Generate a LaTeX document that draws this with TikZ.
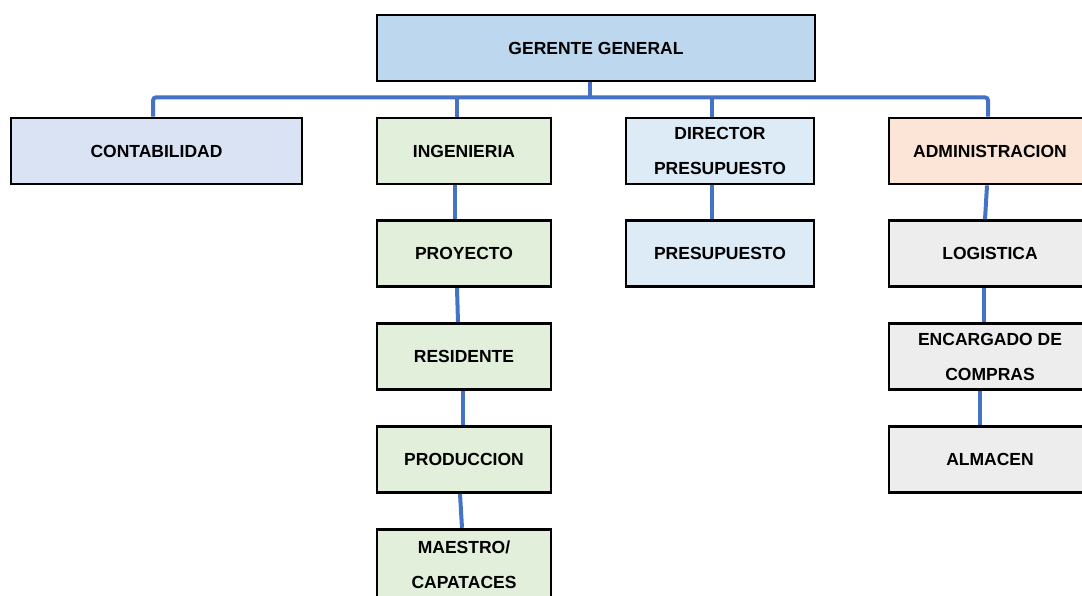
\documentclass[tikz,border=0pt]{standalone}
\usepackage{fontspec}
\setmainfont{Liberation Sans}
\usepackage{tikz}
\usepackage{xcolor}
\usetikzlibrary{positioning}

\definecolor{link-blue}{HTML}{4472C4}
\definecolor{fill-top}{HTML}{BDD7EE}
\definecolor{fill-conta}{HTML}{DAE3F3}
\definecolor{fill-ing}{HTML}{E2EFDA}
\definecolor{fill-pres}{HTML}{DDEBF7}
\definecolor{fill-adm}{HTML}{FCE4D6}
\definecolor{fill-log}{HTML}{EDEDED}

\begin{document}
\begin{tikzpicture}
[
x=1pt, y=1pt,
box-a/.style={draw, line width=2.8pt, minimum height=66pt, inner sep=0pt, align=center,
              font=\bfseries\fontsize{17.5}{35}\selectfont},
link-a/.style={draw=link-blue, line width=4pt, rounded corners=3pt}
]
\clip (0,0) rectangle (1082,595);
\node (box-gerente) [box-a, fill=fill-top,   minimum width=438pt] at (596,547)   {GERENTE GENERAL};
\node (box-conta)   [box-a, fill=fill-conta, minimum width=291pt] at (156.5,444) {CONTABILIDAD};
\node (box-ing)     [box-a, fill=fill-ing,   minimum width=174pt] at (464,444)   {INGENIERIA};
\node (box-dir)     [box-a, fill=fill-pres,  minimum width=188pt] at (720,444)   {DIRECTOR\\PRESUPUESTO};
\node (box-adm)     [box-a, fill=fill-adm,   minimum width=202pt] at (990,444)   {ADMINISTRACION};
\node (box-proy)    [box-a, fill=fill-ing,   minimum width=174pt, below = 34pt of box-ing ] {PROYECTO};
\node (box-res)     [box-a, fill=fill-ing,   minimum width=174pt, below = 34pt of box-proy] {RESIDENTE};
\node (box-prod)    [box-a, fill=fill-ing,   minimum width=174pt, below = 34pt of box-res ] {PRODUCCION};
\node (box-mae)     [box-a, fill=fill-ing,   minimum width=174pt, minimum height=71pt, below = 34pt of box-prod] {MAESTRO/\\CAPATACES};
\node (box-pres)    [box-a, fill=fill-pres,  minimum width=188pt, below = 34pt of box-dir ] {PRESUPUESTO};
\node (box-log)     [box-a, fill=fill-log,   minimum width=202pt, below = 34pt of box-adm ] {LOGISTICA};
\node (box-enc)     [box-a, fill=fill-log,   minimum width=202pt, below = 34pt of box-log ] {ENCARGADO DE\\COMPRAS};
\node (box-alm)     [box-a, fill=fill-log,   minimum width=202pt, below = 34pt of box-enc ] {ALMACEN};
% bus under the top box
\draw [link-a] ([xshift=-6pt]box-gerente.south) -- ++(0,-15) coordinate (bus-mid);
\draw [link-a] ([xshift=-3.5pt]box-conta.north) |- (bus-mid) -| ([xshift=-2pt]box-adm.north);
\draw [link-a] ([xshift=-7pt]box-ing.north) -- ([xshift=-7pt]box-ing.north |- bus-mid);
\draw [link-a] ([xshift=-8pt]box-dir.north) -- ([xshift=-8pt]box-dir.north |- bus-mid);
% columns
\draw [link-a] ([xshift=-9pt]box-ing.south)  -- ([xshift=-9pt]box-proy.north);
\draw [link-a] ([xshift=-7pt]box-proy.south) -- ([xshift=-6pt]box-res.north);
\draw [link-a] ([xshift=-1pt]box-res.south)  -- ([xshift=-1pt]box-prod.north);
\draw [link-a] ([xshift=-4pt]box-prod.south) -- ([xshift=-2pt]box-mae.north);
\draw [link-a] ([xshift=-8pt]box-dir.south)  -- ([xshift=-8pt]box-pres.north);
\draw [link-a] ([xshift=-3pt]box-adm.south)  -- ([xshift=-5pt]box-log.north);
\draw [link-a] ([xshift=-6pt]box-log.south)  -- ([xshift=-6pt]box-enc.north);
\draw [link-a] ([xshift=-10pt]box-enc.south) -- ([xshift=-10pt]box-alm.north);
\end{tikzpicture}
\end{document}
